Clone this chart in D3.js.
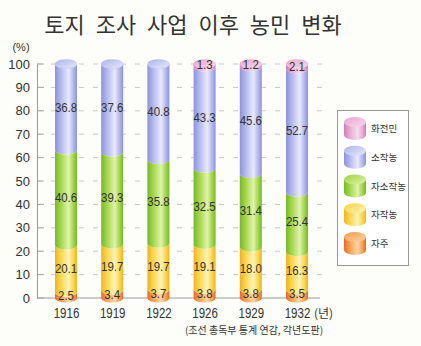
<!DOCTYPE html>
<html><head><meta charset="utf-8">
<script src="https://cdn.jsdelivr.net/npm/d3@7"></script>
<style>
html,body{margin:0;padding:0;background:#fdfdf9;}
svg{display:block;}
text{font-family:"Liberation Sans",Arial,sans-serif;fill:#333;}
.kr{font-family:"Noto Sans CJK KR","Noto Sans",sans-serif;}
</style></head>
<body>
<svg id="c" width="421" height="346"></svg>
<script>
const years = ["1916","1919","1922","1926","1929","1932"];
const jaju = [2.5,3.4,3.7,3.8,3.8,3.5];
const jajaknong = [20.1,19.7,19.7,19.1,18.0,16.3];
const jasojaknong = [40.6,39.3,35.8,32.5,31.4,25.4];
const sojaknong = [36.8,37.6,40.8,43.3,45.6,52.7];
const hwajeonmin = [0,0,0,1.3,1.2,2.1];
const seriesNames = ["자주","자작농","자소작농","소작농","화전민"];
const yTicks = [0,10,20,30,40,50,60,70,80,90,100];
const seriesColors = {
  "자주":   {dark:"#e8682a", base:"#f39a48", light:"#fcd6a8"},
  "자작농": {dark:"#f0b222", base:"#f8d244", light:"#fff3b8"},
  "자소작농":{dark:"#74b82a", base:"#9cd242", light:"#e0f3ac"},
  "소작농": {dark:"#8d92d8", base:"#adb2ec", light:"#e8eafb"},
  "화전민": {dark:"#d27cb6", base:"#e6a4ce", light:"#f8dcee"}
};

const table = years.map((y,i)=>({year:y,"자주":jaju[i],"자작농":jajaknong[i],"자소작농":jasojaknong[i],"소작농":sojaknong[i],"화전민":hwajeonmin[i]}));
const stack = d3.stack().keys(seriesNames)(table);

const svg = d3.select("#c");
const defs = svg.append("defs");
seriesNames.forEach((n,k)=>{
  const c = seriesColors[n];
  const g = defs.append("linearGradient").attr("id","g"+k).attr("x1","0").attr("x2","1").attr("y1","0").attr("y2","0");
  [[0,c.dark],[0.22,c.base],[0.62,c.light],[0.86,c.base],[1,c.dark]].forEach(s=>g.append("stop").attr("offset",s[0]).attr("stop-color",s[1]));
  const gt = defs.append("linearGradient").attr("id","gt"+k).attr("x1","0").attr("x2","1").attr("y1","0").attr("y2","1");
  gt.append("stop").attr("offset",0).attr("stop-color",c.base);
  gt.append("stop").attr("offset",1).attr("stop-color",c.light);
});

const x = d3.scalePoint().domain(years).range([66,297]);
const y = d3.scaleLinear().domain([0,100]).range([298,64]);
const bw = 22, ry = 4.5;

// title
svg.append("text").attr("class","kr").attr("x",193).attr("y",33).attr("text-anchor","middle")
  .attr("font-size",22).attr("font-weight",400).attr("fill","#1a1a1a").style("word-spacing","6px")
  .text("토지 조사 사업 이후 농민 변화");

// gridlines
svg.append("g").selectAll("line").data(yTicks.filter(t=>t>0)).join("line")
  .attr("x1",37).attr("x2",325).attr("y1",d=>y(d)).attr("y2",d=>y(d))
  .attr("stroke","#c8c8c8").attr("stroke-width",1).attr("stroke-dasharray","5,9");
// tick stubs
svg.append("g").selectAll("line").data(yTicks).join("line")
  .attr("x1",37).attr("x2",44).attr("y1",d=>y(d)).attr("y2",d=>y(d))
  .attr("stroke","#aaa").attr("stroke-width",1);

// axes
const yAxis = d3.axisLeft(y).tickValues(yTicks).tickSize(0).tickPadding(7);
const ga = svg.append("g").attr("transform","translate(37,0)").call(yAxis);
ga.select(".domain").attr("stroke","#999");
ga.selectAll("text").attr("font-size",13).attr("fill","#444");
svg.append("line").attr("x1",37).attr("x2",320).attr("y1",y(0)).attr("y2",y(0)).attr("stroke","#999");
svg.append("text").attr("x",21).attr("y",51).attr("text-anchor","middle").attr("font-size",11).attr("fill","#444").text("(%)");

const xAxis = d3.axisBottom(x).tickSize(0).tickPadding(0);
const gx = svg.append("g").attr("transform",`translate(0,${y(0)})`).call(xAxis);
gx.select(".domain").remove();
gx.selectAll("text").attr("font-size",14).attr("fill","#333").attr("y",0).attr("dy",0)
  .attr("transform","translate(0,20) scale(0.82,1)");
svg.append("text").attr("class","kr").attr("x",x("1932")+17).attr("y",318).attr("font-size",12).attr("fill","#333").text("(년)");
svg.append("text").attr("class","kr").attr("x",254).attr("y",334).attr("text-anchor","middle").attr("font-size",10).attr("fill","#333")
  .text("(조선 총독부 통계 연감, 각년도판)");

// cylinders
function segPath(cx, yt, yb){
  const x0 = cx-bw/2, x1 = cx+bw/2;
  return `M${x0},${yt}L${x0},${yb}A${bw/2},${ry} 0 0 0 ${x1},${yb}L${x1},${yt}A${bw/2},${ry} 0 0 1 ${x0},${yt}Z`;
}
const bars = svg.append("g");
stack.forEach((s,k)=>{
  bars.append("g").selectAll("path").data(s.filter(d=>d[1]-d[0]>0)).join("path")
    .attr("d",d=>segPath(x(d.data.year), y(d[1]), y(d[0])))
    .attr("fill",`url(#g${k})`);
});
// top caps
years.forEach((yr,i)=>{
  let topK = 0;
  stack.forEach((s,k)=>{ if(s[i][1]-s[i][0]>0) topK=k; });
  bars.append("ellipse").attr("cx",x(yr)).attr("cy",y(100)).attr("rx",bw/2).attr("ry",ry)
    .attr("fill",`url(#gt${topK})`).attr("stroke",seriesColors[seriesNames[topK]].dark).attr("stroke-opacity",0.35).attr("stroke-width",0.6);
});
// value labels
stack.forEach((s,k)=>{
  bars.append("g").selectAll("text").data(s.filter(d=>d[1]-d[0]>0)).join("text")
    .attr("transform",d=>{ const m=y((d[0]+d[1])/2); const ty=(d[1]-d[0]<2)? y(100)+4.5 : m+4.5; return `translate(${x(d.data.year)},${ty}) scale(0.88,1)`; })
    .attr("text-anchor","middle").attr("font-size",13).attr("fill","#333")
    .text(d=>(d[1]-d[0]).toFixed(1));
});

// legend
svg.append("rect").attr("x",337.5).attr("y",110.5).attr("width",71).attr("height",155).attr("fill","#fff").attr("stroke","#999");
const legendOrder = seriesNames.slice().reverse();
const ly = d3.scalePoint().domain(legendOrder).range([128,243]);
legendOrder.forEach(n=>{
  const k = seriesNames.indexOf(n);
  const cx = 355, cy = ly(n);
  const lw = 22, lr = 5;
  svg.append("path").attr("d",`M${cx-lw/2},${cy-6}L${cx-lw/2},${cy+7}A${lw/2},${lr} 0 0 0 ${cx+lw/2},${cy+7}L${cx+lw/2},${cy-6}Z`).attr("fill",`url(#g${k})`);
  svg.append("ellipse").attr("cx",cx).attr("cy",cy-6).attr("rx",lw/2).attr("ry",lr).attr("fill",`url(#gt${k})`);
  svg.append("text").attr("class","kr").attr("x",371).attr("y",cy+4).attr("font-size",9.5).attr("fill","#444").text(n);
});
</script>
</body></html>
